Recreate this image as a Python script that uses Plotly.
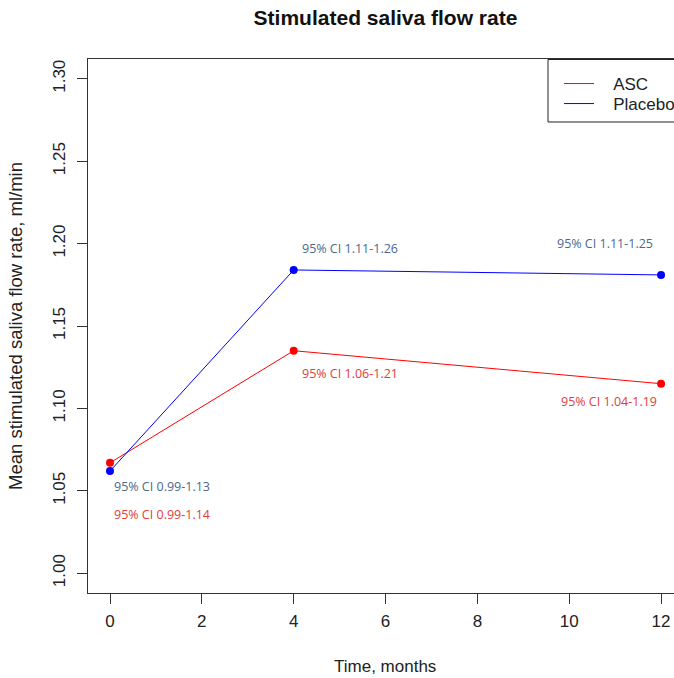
import plotly.graph_objects as go

months = [0, 4, 12]
asc_mean = [1.067, 1.135, 1.115]
placebo_mean = [1.062, 1.184, 1.181]
series_names = ["ASC", "Placebo"]
series_colors = ["#FF0000", "#0000FF"]

x_ticks = [0, 2, 4, 6, 8, 10, 12]
y_ticks = [1.00, 1.05, 1.10, 1.15, 1.20, 1.25, 1.30]
y_tick_labels = ["1.00", "1.05", "1.10", "1.15", "1.20", "1.25", "1.30"]

ci_texts = ["95% CI 0.99-1.13", "95% CI 0.99-1.14", "95% CI 1.11-1.26",
            "95% CI 1.11-1.25", "95% CI 1.06-1.21", "95% CI 1.04-1.19"]
ci_series = [1, 0, 1, 1, 0, 0]  # 0 = ASC, 1 = Placebo
ci_x = [0.04, 0.04, 4.14, 9.69, 4.14, 11.96]
ci_y = [1.0529, 1.0358, 1.1968, 1.1999, 1.1209, 1.1039]
ci_anchor = ["left", "left", "left", "left", "left", "right"]
ci_text_colors = ["#E23B3B", "#4A6891"]

BASE = "Liberation Sans, Arial, sans-serif"
PLOT_L, PLOT_T, PLOT_B, PLOT_W = 88, 59, 593, 586
PLOT_H = PLOT_B - PLOT_T


def px_x(p):
    return (p - PLOT_L) / PLOT_W


def px_y(p):
    return (PLOT_B - p) / PLOT_H


fig = go.Figure()
legend_ids = ["legend", "legend2"]
for name, ys, col, lid in zip(series_names, [asc_mean, placebo_mean], series_colors, legend_ids):
    fig.add_trace(go.Scatter(
        x=months, y=ys, name=name, mode="lines+markers",
        line=dict(color=col, width=1),
        marker=dict(color=col, size=8),
        showlegend=False,
    ))
    # legend entry (line only, as in the reference)
    fig.add_trace(go.Scatter(
        x=[None], y=[None], name="\u00a0\u00a0\u00a0" + name, mode="lines",
        line=dict(color=col, width=1), legend=lid, showlegend=True,
    ))

for t, s, x, y, a in zip(ci_texts, ci_series, ci_x, ci_y, ci_anchor):
    fig.add_annotation(x=x, y=y, xref="x", yref="y", text=t, showarrow=False,
                       xanchor=a, yanchor="middle",
                       font=dict(family="Open Sans, sans-serif", size=12.5,
                                 color=ci_text_colors[s]))

# x-axis title (centred on the full R plot region, which extends past the right edge)
fig.add_annotation(x=px_x(385), y=px_y(666), xref="paper", yref="paper",
                   text="Time, months", showarrow=False, xanchor="center",
                   yanchor="middle", font=dict(family=BASE, size=17, color="#222"))

# legend frame
fig.add_shape(type="rect", xref="paper", yref="paper",
              x0=px_x(548), x1=px_x(700), y0=px_y(122), y1=px_y(59.5),
              line=dict(color="#222", width=1), fillcolor="white", layer="below")

leg_common = dict(xanchor="left", yanchor="top", borderwidth=0,
                  bgcolor="rgba(0,0,0,0)",
                  font=dict(family=BASE, size=17, color="#222"), itemwidth=30)

fig.update_layout(
    width=674, height=678,
    margin=dict(l=PLOT_L, r=0, t=PLOT_T, b=678 - PLOT_B, autoexpand=False),
    paper_bgcolor="white", plot_bgcolor="rgba(0,0,0,0)",
    font=dict(family=BASE, size=17, color="#222"),
    title=dict(text="<b>Stimulated saliva flow rate</b>", x=(88 + 683) / 2 / 674,
               xanchor="center", y=1 - 18 / 678, yanchor="middle",
               font=dict(family=BASE, size=21, color="#111")),
    showlegend=True,
    legend=dict(x=px_x(559), y=px_y(66), **leg_common),
    legend2=dict(x=px_x(559), y=px_y(86), **leg_common),
    xaxis=dict(range=[-0.479, 12.282], tickvals=x_ticks, ticks="outside", ticklen=10,
               tickcolor="#333", showline=True, linecolor="#333", mirror=True,
               showgrid=False, zeroline=False, ticklabelstandoff=3,
               tickfont=dict(size=17)),
    yaxis=dict(range=[0.988, 1.312], tickvals=y_ticks, ticktext=y_tick_labels,
               ticks="outside", ticklen=10, tickangle=-90,
               tickcolor="#333", showline=True, linecolor="#333", mirror=False,
               showgrid=False, zeroline=False, ticklabelstandoff=5,
               title=dict(text="Mean stimulated saliva flow rate, ml/min", standoff=22,
                          font=dict(family=BASE, size=18.5, color="#222")),
               tickfont=dict(size=17)),
)

fig.write_html("out.html")
